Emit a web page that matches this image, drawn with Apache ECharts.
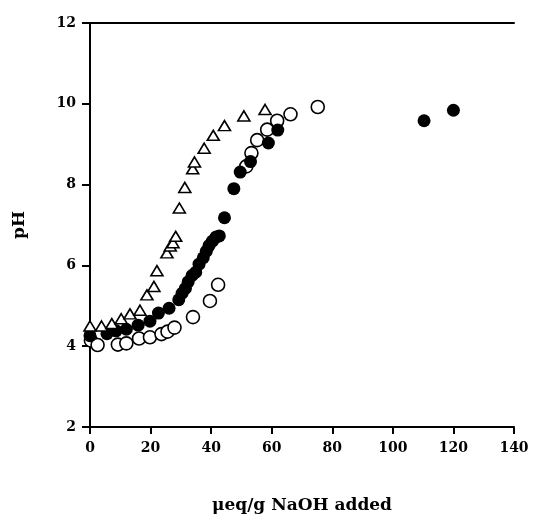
<!DOCTYPE html>
<html>
<head>
<meta charset="utf-8">
<script src="https://cdn.jsdelivr.net/npm/echarts@6/dist/echarts.min.js"></script>
<style>
  html, body { margin: 0; padding: 0; background: #fff; }
  #chart { width: 534px; height: 519px; }
</style>
</head>
<body>
<div id="chart"></div>
<script>
// open triangles
const triX = [0, 3.8, 7.2, 10.3, 13.2, 16.5, 18.8, 21.1, 22.1, 25.4, 26.5, 27.4, 28.3, 29.5, 31.3, 33.9, 34.5, 37.7, 40.7, 44.4, 50.8, 57.8];
const triY = [4.5, 4.5, 4.56, 4.68, 4.8, 4.89, 5.27, 5.48, 5.87, 6.31, 6.48, 6.56, 6.72, 7.42, 7.93, 8.39, 8.56, 8.9, 9.22, 9.46, 9.7, 9.86];

// filled circles
const dotX = [0, 5.6, 8.6, 12, 15.9, 19.8, 22.6, 26.1, 29.3, 30.4, 31.5, 32.4, 33.7, 34.9, 36, 37.4, 38.4, 39.3, 40.4, 41.6, 42.7, 44.4, 47.5, 49.6, 53, 58.9, 62, 110.3, 120];
const dotY = [4.26, 4.31, 4.38, 4.42, 4.52, 4.62, 4.82, 4.94, 5.15, 5.31, 5.43, 5.59, 5.75, 5.83, 6.03, 6.19, 6.35, 6.49, 6.6, 6.7, 6.73, 7.18, 7.9, 8.31, 8.57, 9.03, 9.35, 9.58, 9.84];

// open circles
const ringX = [0.3, 2.5, 9.2, 12, 16.2, 19.8, 23.6, 25.6, 27.9, 34, 39.6, 42.3, 51.6, 53.3, 55.2, 58.5, 61.8, 66.2, 75.2];
const ringY = [4.14, 4.03, 4.04, 4.07, 4.19, 4.22, 4.3, 4.36, 4.46, 4.72, 5.12, 5.52, 8.45, 8.78, 9.1, 9.36, 9.58, 9.74, 9.92];

const xTicks = [0, 20, 40, 60, 80, 100, 120, 140];
const yTicks = [2, 4, 6, 8, 10, 12];

const pairs = (xs, ys) => xs.map((x, i) => [x, ys[i]]);

const font = 'DejaVu Serif';
const labelStyle = { fontFamily: font, fontWeight: 'bold', fontSize: 14, color: '#000' };
const lineStyle = { color: '#000', width: 2 };

const chart = echarts.init(document.getElementById('chart'));

chart.setOption({
  animation: false,
  backgroundColor: '#fff',
  grid: { left: 90, right: 20, top: 23, bottom: 84 },
  xAxis: [{
    type: 'value',
    min: xTicks[0],
    max: xTicks[xTicks.length - 1],
    interval: 20,
    name: 'μeq/g NaOH added',
    nameLocation: 'middle',
    nameGap: 70,
    nameTextStyle: { fontFamily: font, fontWeight: 'bold', fontSize: 17, color: '#000' },
    axisLine: { lineStyle },
    axisTick: { length: 7, lineStyle: { color: '#000', width: 2 } },
    axisLabel: { ...labelStyle, margin: 14 },
    splitLine: { show: false }
  }, {
    type: 'value',
    position: 'top',
    min: 0,
    max: 140,
    axisLine: { show: true, lineStyle },
    axisTick: { show: false },
    axisLabel: { show: false },
    splitLine: { show: false }
  }],
  yAxis: [{
    type: 'value',
    min: yTicks[0],
    max: yTicks[yTicks.length - 1],
    interval: 2,
    name: 'pH',
    nameLocation: 'middle',
    nameGap: 62,
    nameRotate: 90,
    nameTextStyle: { fontFamily: font, fontWeight: 'bold', fontSize: 17, color: '#000' },
    axisLine: { lineStyle },
    axisTick: { length: 8, lineStyle: { color: '#000', width: 2 } },
    axisLabel: { ...labelStyle, margin: 14 },
    splitLine: { show: false }
  }, {
    type: 'value',
    position: 'right',
    min: 2,
    max: 12,
    axisLine: { show: true, lineStyle },
    axisTick: { show: false },
    axisLabel: { show: false },
    splitLine: { show: false }
  }],
  series: [{
    type: 'scatter',
    data: pairs(ringX, ringY),
    symbol: 'circle',
    symbolSize: 13,
    itemStyle: { color: '#fff', borderColor: '#000', borderWidth: 1.6, opacity: 1 }
  }, {
    type: 'scatter',
    data: pairs(dotX, dotY),
    symbol: 'circle',
    symbolSize: 13,
    itemStyle: { color: '#000', borderWidth: 0, opacity: 1 }
  }, {
    type: 'scatter',
    data: pairs(triX, triY),
    symbol: 'triangle',
    symbolSize: [12, 10],
    itemStyle: { color: '#fff', borderColor: '#000', borderWidth: 1.6, opacity: 1 }
  }]
});
</script>
</body>
</html>
